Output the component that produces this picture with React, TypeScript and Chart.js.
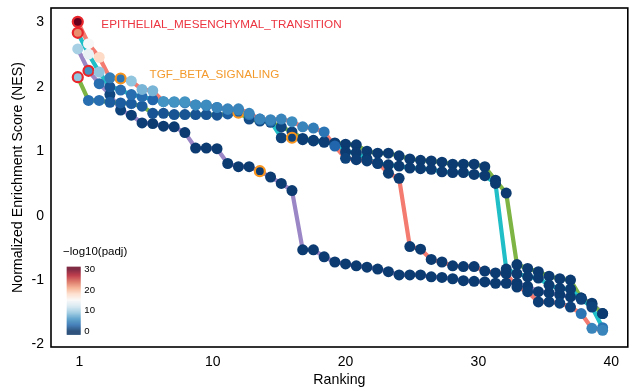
import React, { useEffect, useRef } from 'react';
import { Chart, registerables } from 'chart.js';
Chart.register(...registerables);

const RANKS = [1,2,3,4,5,6,7,8,9,10,11,12,13,14,15,16,17,18,19,20,21,22,23,24,25,26,27,28,29,30,31,32,33,34,35,36,37,38,39,40,41,42,43,44,45,46,47,48,49,50];
const X_TICK_POS = [1.15, 13.6, 26.0, 38.4, 50.8];
const X_TICK_LABELS = ['1', '10', '20', '30', '40'];
const Y_TICKS = [-2, -1, 0, 1, 2, 3];

const RED_NES = [
  3.01, 2.67, 2.46, 2.14, 2.13, 2.09, 1.96, 1.94, 1.77, 1.77,
  1.77, 1.72, 1.72, 1.68, 1.66, 1.66, 1.59, 1.50, 1.49, 1.50,
  1.46, 1.38, 1.36, 1.30, 1.08, 0.89, 0.87, 0.85, 0.82, 0.66,
  0.58, -0.48, -0.52, -0.68, -0.72, -0.78, -0.79, -0.79, -0.86, -0.89,
  -0.90, -1.11, -1.18, -1.34, -1.34, -1.36, -1.42, -1.52, -1.75, -1.78,
];
const RED_PADJ = [
  30, 15, 18, 4.5, 4, 9, 8, 8, 6, 6,
  6, 5.5, 5.5, 5, 5, 5, 5, 5, 5, 5,
  5.5, 5, 4.5, 4, 3, 1, 0.8, 0.8, 0.8, 0.6,
  0.6, 0.6, 0.6, 0.6, 0.6, 0.6, 0.6, 0.6, 0.6, 0.6,
  0.6, 0.6, 0.8, 0.8, 0.8, 1, 1, 4, 5, 5,
];

const TEAL_NES = [
  2.84, 2.51, 2.23, 2.00, 1.95, 1.88, 1.85, 1.80, 1.77, 1.76,
  1.75, 1.72, 1.71, 1.68, 1.65, 1.64, 1.57, 1.50, 1.47, 1.21,
  1.21, 1.18, 1.16, 1.14, 1.12, 0.99, 0.98, 0.88, 0.81, 0.79,
  0.77, 0.74, 0.73, 0.72, 0.68, 0.67, 0.67, 0.64, 0.62, 0.50,
  -0.83, -0.90, -0.95, -0.97, -1.08, -1.13, -1.14, -1.30, -1.42, -1.74,
];
const TEAL_PADJ = [
  22, 14, 9, 2, 3.5, 3.5, 3.5, 3, 5, 5,
  5, 5, 4.5, 4.5, 4.5, 5, 4, 4, 4, 1,
  1, 0.8, 0.8, 0.8, 0.8, 0.6, 0.6, 0.6, 0.6, 0.6,
  0.6, 0.6, 0.6, 0.6, 0.6, 0.6, 0.6, 0.6, 0.6, 0.6,
  0.6, 0.6, 0.6, 0.6, 0.6, 0.6, 0.6, 1, 1, 4,
];

const GREEN_NES = [
  2.15, 1.79, 1.79, 1.76, 1.75, 1.74, 1.70, 1.59, 1.59, 1.57,
  1.57, 1.57, 1.57, 1.56, 1.58, 1.60, 1.50, 1.47, 1.45, 1.38,
  1.30, 1.20, 1.17, 1.15, 1.13, 1.11, 1.10, 1.00, 0.97, 0.97,
  0.93, 0.88, 0.86, 0.85, 0.83, 0.80, 0.80, 0.80, 0.76, 0.55,
  0.35, -0.76, -0.82, -0.87, -0.94, -0.98, -1.00, -1.28, -1.38, -1.52,
];
const GREEN_PADJ = [
  9, 3.5, 3.5, 2.5, 2.5, 2.5, 2.5, 2, 2, 2,
  2, 2, 2, 2, 2.5, 2, 1.5, 1.5, 1.5, 1.2,
  1, 0.8, 0.8, 0.8, 0.8, 0.6, 0.6, 0.6, 0.6, 0.6,
  0.6, 0.6, 0.6, 0.6, 0.6, 0.6, 0.6, 0.6, 0.6, 0.6,
  0.6, 0.6, 0.6, 0.6, 0.6, 0.6, 0.6, 0.6, 0.6, 0.6,
];

const PURPLE_NES = [
  2.59, 2.25, 2.05, 1.88, 1.64, 1.56, 1.44, 1.43, 1.39, 1.38,
  1.29, 1.05, 1.05, 1.04, 0.81, 0.76, 0.76, 0.69, 0.60, 0.50,
  0.39, -0.53, -0.53, -0.64, -0.72, -0.75, -0.78, -0.80, -0.83, -0.87,
  -0.92, -0.92, -0.92, -0.95, -0.96, -0.98, -1.01, -1.02, -1.03, -1.05,
  -1.05, -1.05, -1.10, -1.18, -1.20, -1.23, -1.26, -1.28, -1.36, -1.52,
];
const PURPLE_PADJ = [
  10, 6, 3.5, 1.2, 1, 0.8, 0.8, 0.6, 0.6, 0.6,
  0.6, 0.6, 0.6, 0.6, 0.6, 0.6, 0.6, 0.6, 0.6, 0.6,
  0.6, 0.6, 0.6, 0.6, 0.6, 0.6, 0.6, 0.6, 0.6, 0.6,
  0.6, 0.6, 0.6, 0.6, 0.6, 0.6, 0.6, 0.6, 0.6, 0.6,
  0.6, 0.6, 0.6, 0.6, 0.6, 0.6, 0.6, 0.6, 0.6, 0.6,
];

// order: red, teal, green, purple
const LINE_COLORS = ['#F37B6F', '#20BEC6', '#7DB443', '#9B86C6'];
const EMT_RANK = [1, 1, 1, 2];
const TGF_RANK = [5, 21, 16, 18];
const EMT_LABEL = 'EPITHELIAL_MESENCHYMAL_TRANSITION';
const TGF_LABEL = 'TGF_BETA_SIGNALING';
const EMT_LABEL_POS = [3.2, 2.97];
const TGF_LABEL_POS = [7.7, 2.19];
const EMT_COLOR = '#E8262B';
const TGF_COLOR = '#F7941D';
const EMT_TEXT_COLOR = '#EC3440';
const TGF_TEXT_COLOR = '#F39A2C';
const LEGEND_TICKS = [0, 10, 20, 30];

const RDBU = ['#053061', '#2166ac', '#4393c3', '#92c5de', '#d1e5f0', '#f7f7f7', '#fddbc7', '#f4a582', '#d6604d', '#b2182b', '#67001f'];
const PADJ_MAX = 30;

function hexToRgb(h: string) {
  return [parseInt(h.slice(1, 3), 16), parseInt(h.slice(3, 5), 16), parseInt(h.slice(5, 7), 16)];
}
function padjColor(v: number) {
  const t = Math.max(0, Math.min(1, v / PADJ_MAX)) * (RDBU.length - 1);
  const i = Math.min(RDBU.length - 2, Math.floor(t));
  const f = t - i;
  const a = hexToRgb(RDBU[i]);
  const b = hexToRgb(RDBU[i + 1]);
  const c = a.map((x, k) => Math.round(x + (b[k] - x) * f));
  return `rgb(${c[0]},${c[1]},${c[2]})`;
}

const FONT = '"Liberation Sans", Arial, Helvetica, sans-serif';

const overlayPlugin = {
  id: 'overlay',
  afterDraw(chart: any) {
    const { ctx, chartArea: a, scales } = chart;
    const xs = scales.x;
    const ys = scales.y;
    ctx.save();
    // panel border
    ctx.strokeStyle = '#000';
    ctx.lineWidth = 1.6;
    ctx.strokeRect(a.left, a.top, a.right - a.left, a.bottom - a.top);

    // annotations
    ctx.font = `11.7px ${FONT}`;
    ctx.textBaseline = 'middle';
    ctx.textAlign = 'left';
    ctx.fillStyle = EMT_TEXT_COLOR;
    ctx.fillText(EMT_LABEL, xs.getPixelForValue(EMT_LABEL_POS[0]), ys.getPixelForValue(EMT_LABEL_POS[1]));
    ctx.fillStyle = TGF_TEXT_COLOR;
    ctx.fillText(TGF_LABEL, xs.getPixelForValue(TGF_LABEL_POS[0]), ys.getPixelForValue(TGF_LABEL_POS[1]));

    // axis titles
    ctx.fillStyle = '#000';
    ctx.font = `14.2px ${FONT}`;
    ctx.textAlign = 'center';
    ctx.textBaseline = 'middle';
    ctx.fillText('Ranking', (a.left + a.right) / 2, 380);
    ctx.save();
    ctx.translate(18, (a.top + a.bottom) / 2);
    ctx.rotate(-Math.PI / 2);
    ctx.fillText('Normalized Enrichment Score (NES)', 0, 0);
    ctx.restore();

    // colour legend
    const barL = 66.7, barW = 14;
    const v2y = (v: number) => 331.3 - v * ((331.3 - 269.3) / 30);
    const barTop = 266.7, barBot = 334;
    for (let py = barTop; py < barBot; py += 1) {
      const v = (331.3 - (py + 0.5)) / ((331.3 - 269.3) / 30);
      ctx.fillStyle = padjColor(v);
      ctx.fillRect(barL, py, barW, 1.05);
    }
    ctx.fillStyle = '#000';
    ctx.font = `11.5px ${FONT}`;
    ctx.textAlign = 'left';
    ctx.fillText('\u2212log10(padj)', 63, 252);
    ctx.font = `9.6px ${FONT}`;
    LEGEND_TICKS.forEach((t) => {
      ctx.fillText(String(t), 84.3, v2y(t));
    });
    ctx.restore();
  },
};

export default function App() {
  const canvasRef = useRef<HTMLCanvasElement | null>(null);

  useEffect(() => {
    document.body.style.margin = '0';
    const canvas = canvasRef.current;
    if (!canvas) return;

    const series = [
      { nes: RED_NES, padj: RED_PADJ },
      { nes: TEAL_NES, padj: TEAL_PADJ },
      { nes: GREEN_NES, padj: GREEN_PADJ },
      { nes: PURPLE_NES, padj: PURPLE_PADJ },
    ];

    const lineSets = series.map((s, k) => ({
      data: RANKS.map((r, i) => ({ x: r, y: s.nes[i] })),
      borderColor: LINE_COLORS[k],
      borderWidth: 4.2,
      borderCapStyle: 'round',
      borderJoinStyle: 'round',
      pointRadius: 0,
      tension: 0,
      fill: false,
      order: 2,
    }));

    const pointSets = series.map((s, k) => ({
      data: RANKS.map((r, i) => ({ x: r, y: s.nes[i] })),
      showLine: false,
      pointRadius: RANKS.map((r) => (r === EMT_RANK[k] || r === TGF_RANK[k] ? 5 : 5.5)),
      pointBackgroundColor: s.padj.map(padjColor),
      pointBorderColor: RANKS.map((r) => (r === EMT_RANK[k] ? EMT_COLOR : r === TGF_RANK[k] ? TGF_COLOR : 'rgba(0,0,0,0)')),
      pointBorderWidth: RANKS.map((r) => (r === EMT_RANK[k] || r === TGF_RANK[k] ? 2.2 : 0)),
      order: 1,
    }));

    const chart = new Chart(canvas, {
      type: 'line',
      data: { datasets: [...pointSets, ...lineSets] as any },
      options: {
        animation: false,
        responsive: false,
        devicePixelRatio: 1,
        events: [],
        layout: { padding: { left: 0, right: 7, top: 8, bottom: 0 } },
        plugins: { legend: { display: false }, tooltip: { enabled: false }, title: { display: false } },
        scales: {
          x: {
            type: 'linear',
            min: -1.5,
            max: 52.35,
            grid: { display: false, drawTicks: false },
            border: { display: false },
            afterBuildTicks: (s: any) => {
              s.ticks = X_TICK_POS.map((v) => ({ value: v }));
            },
            afterFit: (s: any) => {
              s.height = 44;
              s.paddingLeft = 0;
              s.paddingRight = 0;
            },
            ticks: {
              autoSkip: false,
              maxRotation: 0,
              padding: 7,
              color: '#000',
              font: { family: FONT, size: 14 },
              callback: (_v: any, i: number) => X_TICK_LABELS[i],
            },
          },
          y: {
            type: 'linear',
            min: -2.04,
            max: 3.225,
            grid: { display: false, drawTicks: false },
            border: { display: false },
            afterBuildTicks: (s: any) => {
              s.ticks = Y_TICKS.map((v) => ({ value: v }));
            },
            afterFit: (s: any) => {
              s.width = 51;
              s.paddingTop = 0;
              s.paddingBottom = 0;
            },
            ticks: {
              padding: 7,
              color: '#000',
              font: { family: FONT, size: 14 },
              callback: (v: any) => String(v),
            },
          },
        },
      } as any,
      plugins: [overlayPlugin],
    });

    return () => chart.destroy();
  }, []);

  return (
    <div style={{ width: 635, height: 391, background: '#fff' }}>
      <canvas ref={canvasRef} width={635} height={391} style={{ display: 'block' }} />
    </div>
  );
}
